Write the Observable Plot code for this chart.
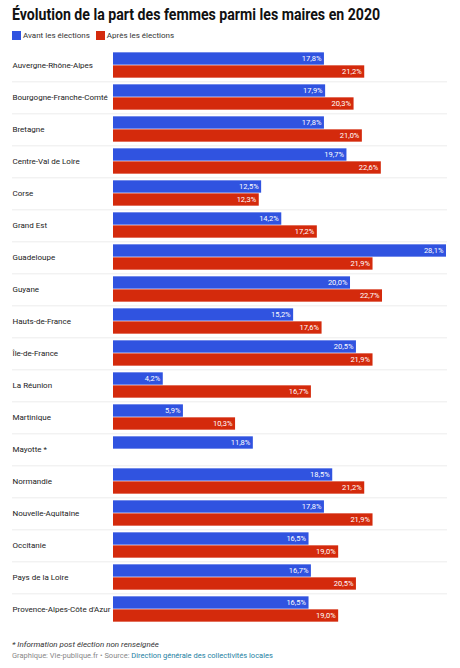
<!DOCTYPE html>
<html lang="fr">
<head>
<meta charset="utf-8">
<script src="https://cdn.jsdelivr.net/npm/d3@7"></script>
<script src="https://cdn.jsdelivr.net/npm/@observablehq/plot@0.6"></script>
<style>
  body { margin: 0; background: #fff; font-family: Roboto, "Noto Sans", sans-serif; }
  #page { position: relative; width: 460px; height: 668px; overflow: hidden; }
  h1 { position: absolute; left: 12px; top: 4.5px; margin: 0; font-size: 16.4px; line-height: 20px; font-weight: 700; color: #111; white-space: nowrap; transform: scaleX(0.862); transform-origin: left center; }
  #legend { position: absolute; left: 12px; top: 30.2px; height: 10px; display: flex; align-items: center; font-size: 8px; color: #333; white-space: nowrap; }
  #legend .sw { display: inline-block; width: 9px; height: 9px; margin-right: 2px; }
  #legend .item { display: inline-flex; align-items: center; margin-right: 6px; }
  #chart { position: absolute; left: 0; top: 42.7px; }
  #notes { position: absolute; left: 12px; top: 638.5px; font-size: 8px; line-height: 11px; white-space: nowrap; }
  #notes .note { font-style: italic; color: #333; }
  #notes .credit { color: #888; font-size: 7.5px; }
  #notes .credit a { color: #1d81a2; text-decoration: none; }
</style>
</head>
<body>
<div id="page">
  <h1>Évolution de la part des femmes parmi les maires en 2020</h1>
  <div id="legend"></div>
  <div id="chart"></div>
  <div id="notes">
    <div class="note">* Information post élection non renseignée</div>
    <div class="credit">Graphique: Vie-publique.fr • Source: <a>Direction générale des collectivités locales</a></div>
  </div>
</div>
<script>
// Régions et part des femmes parmi les maires (%)
const regions = [
  "Auvergne-Rhône-Alpes", "Bourgogne-Franche-Comté", "Bretagne", "Centre-Val de Loire",
  "Corse", "Grand Est", "Guadeloupe", "Guyane", "Hauts-de-France", "Île-de-France",
  "La Réunion", "Martinique", "Mayotte *", "Normandie", "Nouvelle-Aquitaine",
  "Occitanie", "Pays de la Loire", "Provence-Alpes-Côte d'Azur"
];
const avant = [17.8, 17.9, 17.8, 19.7, 12.5, 14.2, 28.1, 20.0, 15.2, 20.5, 4.2, 5.9, 11.8, 18.5, 17.8, 16.5, 16.7, 16.5];
const apres = [21.2, 20.3, 21.0, 22.6, 12.3, 17.2, 21.9, 22.7, 17.6, 21.9, 16.7, 10.3, null, 21.2, 21.9, 19.0, 20.5, 19.0];
const series = ["Avant les élections", "Après les élections"];
const colors = ["#3053e0", "#d42a0c"];

// Légende
const legend = document.getElementById("legend");
series.forEach((s, i) => {
  const item = document.createElement("span");
  item.className = "item";
  item.innerHTML = `<span class="sw" style="background:${colors[i]}"></span>${s}`;
  legend.appendChild(item);
});

const rows = regions.map((region, i) => ({region, avant: avant[i], apres: apres[i]}));

const fr = d3.formatLocale({decimal: ",", thousands: "\u00a0", grouping: [3], currency: ["", " €"]});
const pct = (v) => fr.format(".1f")(v) + "%";

const width = 460;
const height = 588;
const step = height / regions.length;   // hauteur d'une ligne
const barH = 13;                        // épaisseur d'une barre

const chart = Plot.plot({
  width, height,
  marginTop: 0, marginBottom: 0, marginLeft: 12, marginRight: 13,
  x: {domain: [0, d3.max(avant.concat(apres))], range: [113, 446], axis: null},
  y: {domain: regions, padding: 0, axis: null},
  style: {fontFamily: "Roboto, 'Noto Sans', sans-serif", background: "transparent"},
  marks: [
    // séparateurs entre les régions
    Plot.ruleY(regions.slice(0, -1), {y: (d) => d, dy: step / 2, stroke: "#ececec", strokeWidth: 1}),
    // noms des régions
    Plot.text(rows, {y: "region", text: "region", frameAnchor: "left", textAnchor: "start", fill: "#222", fontSize: 8}),
    // barres avant / après
    Plot.barX(rows.filter((d) => d.avant != null), {
      x: "avant", y: "region", fill: colors[0],
      insetTop: step / 2 - barH, insetBottom: step / 2
    }),
    Plot.barX(rows.filter((d) => d.apres != null), {
      x: "apres", y: "region", fill: colors[1],
      insetTop: step / 2, insetBottom: step / 2 - barH
    }),
    // valeurs
    Plot.text(rows.filter((d) => d.avant != null), {
      x: "avant", y: "region", text: (d) => pct(d.avant),
      textAnchor: "end", dx: -3, dy: -barH / 2, fill: "white", fontSize: 7.5
    }),
    Plot.text(rows.filter((d) => d.apres != null), {
      x: "apres", y: "region", text: (d) => pct(d.apres),
      textAnchor: "end", dx: -3, dy: barH / 2, fill: "white", fontSize: 7.5
    })
  ]
});
document.getElementById("chart").appendChild(chart);
</script>
</body>
</html>
